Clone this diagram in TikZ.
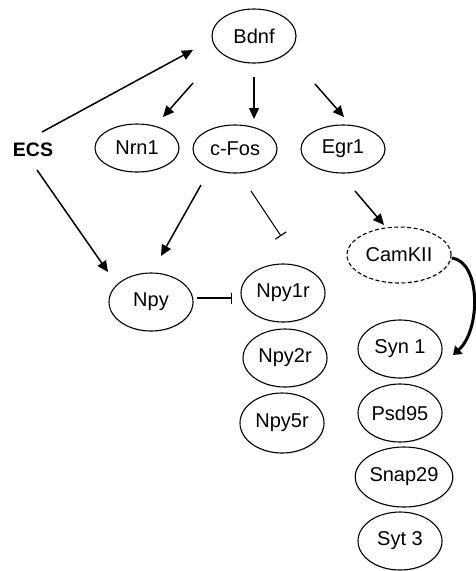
\documentclass[tikz,border=0pt]{standalone}
\usepackage{fontspec}
\setmainfont{Liberation Sans}
\usetikzlibrary{shapes.geometric,arrows.meta,shadows}
\begin{document}
\begin{tikzpicture}[x=1pt,y=-1pt,
  gene/.style={ellipse,draw,line width=1.1pt,fill=white,inner sep=0pt,
    minimum width=84pt,minimum height=50pt,font=\fontsize{20}{23}\selectfont,
    drop shadow={opacity=0.12,shadow xshift=1.2pt,shadow yshift=-1.5pt}},
  arr/.style={line width=1.5pt,-{Triangle[length=11pt,width=10pt]}},
  inh/.style={line width=1.1pt,-{Bar[width=13pt,line width=1.1pt]}},
  thickarr/.style={line width=3pt,-{Triangle[length=8pt,width=11pt]}}]
\useasboundingbox (0,0) rectangle (475,571);
\node[gene,minimum height=54pt] (bdnf) at (254,36) {Bdnf};
\node[gene,minimum height=48pt] (nrn1) at (137,148) {Nrn1};
\node[gene,minimum height=48pt] (cfos) at (235,149) {c-Fos};
\node[gene,minimum height=48pt] (egr1) at (343,149) {Egr1};
\node[font=\fontsize{19.5}{22}\selectfont\bfseries] (ecs) at (33,150) {ECS};
\node[gene,dashed,dash pattern=on 4pt off 2.5pt,minimum width=104pt,minimum height=56pt] (camkii) at (399,255) {CamKII};
\node[gene,minimum height=58pt] (npy) at (151,302) {Npy};
\node[gene,minimum height=58pt] (npy1r) at (283,293) {Npy1r};
\node[gene,minimum height=58pt] (npy2r) at (285,358) {Npy2r};
\node[gene,minimum height=60pt] (npy5r) at (282,423) {Npy5r};
\node[gene,minimum height=58pt] (syn1) at (400,349) {Syn 1};
\node[gene,minimum height=58pt] (psd95) at (400,413) {Psd95};
\node[gene,minimum width=94pt,minimum height=60pt] (snap29) at (404,477) {Snap29};
\node[gene,minimum height=58pt] (syt3) at (400,541) {Syt 3};
% connectors
\draw[arr] ([shift={(9,-18)}]ecs.center) -- ([shift={(-61,14)}]bdnf.center);
\draw[arr] ([shift={(-61,47)}]bdnf.center) -- ([shift={(26,-31)}]nrn1.center);
\draw[arr] ([shift={(0,41)}]bdnf.center) -- ([shift={(19,-30)}]cfos.center);
\draw[arr] ([shift={(61,48)}]bdnf.center) -- ([shift={(1,-32)}]egr1.center);
\draw[arr] ([shift={(4,20)}]ecs.center) -- ([shift={(-43,-30)}]npy.center);
\draw[arr] ([shift={(12,42)}]egr1.center) -- ([shift={(-15,-30)}]camkii.center);
\draw[arr] ([shift={(-34,36)}]cfos.center) -- ([shift={(10,-46)}]npy.center);
\draw[inh] ([shift={(16,42)}]cfos.center) -- ([shift={(-2,-57)}]npy1r.center);
\draw[inh,-{Bar[width=11pt,line width=1.1pt]}] ([shift={(46,-4)}]npy.center) -- ([shift={(-51,5)}]npy1r.center);
\draw[thickarr] ([shift={(53,3)}]camkii.center) .. controls ([shift={(82,7)}]camkii.center) and ([shift={(81,-19)}]syn1.center) .. ([shift={(53,6)}]syn1.center);
\end{tikzpicture}
\end{document}
